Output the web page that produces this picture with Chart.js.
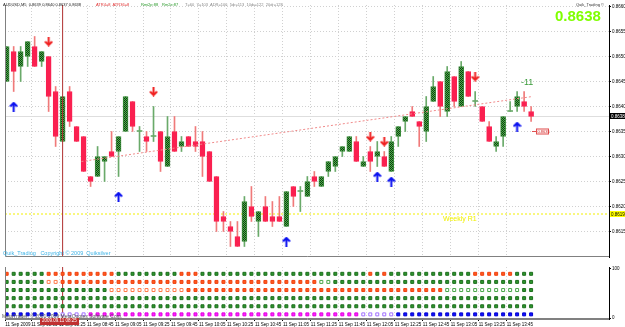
<!DOCTYPE html>
<html>
<head>
<meta charset="utf-8">
<script src="https://cdn.jsdelivr.net/npm/chart.js@4.4.0/dist/chart.umd.min.js"></script>
<style>
  html, body { margin: 0; padding: 0; background: #fff; }
  #wrap { position: relative; width: 625px; height: 327px; overflow: hidden; font-family: "Liberation Sans", Arial, sans-serif; }
  canvas { position: absolute; left: 0; }
  #main { top: 0; }
  #ind { top: 262px; }
  .t { position: absolute; white-space: nowrap; line-height: 1; font-size: 4px; }
</style>
</head>
<body>
<div id="wrap">
  <canvas id="main" width="625" height="262"></canvas>
  <canvas id="ind" width="625" height="65"></canvas>

  <div class="t" style="left:3px;top:3px;color:#222;">AUDUSD,M5&nbsp; 0.8639 0.8640 0.8637 0.8638</div>
  <div class="t" style="left:96px;top:3px;color:#e03030;">ATR4=8&nbsp; ATR36=8</div>
  <div class="t" style="left:141px;top:3px;color:#2a9a2a;">Rmi2p:88</div>
  <div class="t" style="left:162px;top:3px;color:#2a9a2a;">Rm2e:87</div>
  <div class="t" style="left:185px;top:3px;color:#888;">T=60&nbsp; Y=103&nbsp; ADR=106&nbsp; 5dr=113&nbsp; 10dr=122&nbsp; 20dr=128</div>

  <div class="t" style="left:576px;top:3px;color:#333;">Quik_Trading ©</div>
  <div class="t" style="left:555px;top:8px;color:#7fff00;font-size:15px;font-weight:bold;">0.8638</div>
  <div class="t" style="left:521px;top:78px;color:#3c9c3c;font-size:9px;">-11</div>
  <div class="t" style="left:443px;top:215px;color:#f0f000;font-size:7px;">Weekly R1</div>
  <div class="t" style="left:3px;top:251px;color:#40b4e6;font-size:5.5px;">Quik_Trading&nbsp;&nbsp; Copyright © 2009&nbsp; Quiksilver</div>
  <div class="t" style="left:2px;top:314px;color:#555;font-size:5px;">MetaTrader, © 2001-2009 MetaQuotes Software Corp.</div>
  <div class="t" style="left:40px;top:318px;background:#c03030;color:#fff;padding:1px 2px;font-size:4.5px;">2009.09.11 08:25</div>
</div>

<script>
// AUDUSD M5, 11 Sep 2009, bar 0 = 07:45
const priceOpen = [
  0.8645, 0.8651, 0.8648, 0.8650, 0.8652, 0.8649, 0.8650, 0.8643, 0.8633, 0.8643,
  0.8636, 0.8634, 0.8626, 0.8626, 0.8629, 0.8631, 0.8631, 0.8635, 0.8641, 0.8635,
  0.8634, 0.8634, 0.8635, 0.8628, 0.8635, 0.8632, 0.8634, 0.8633, 0.8633, 0.8631,
  0.8626, 0.8618, 0.8616, 0.8614, 0.8613, 0.8620, 0.8617, 0.8620, 0.8618, 0.8618,
  0.8616, 0.8624, 0.8623, 0.8622, 0.8626, 0.8624, 0.8627, 0.8628, 0.8631, 0.8631,
  0.8633, 0.8628, 0.8631, 0.8630, 0.8630, 0.8627, 0.8634, 0.8637, 0.8639, 0.8637,
  0.8635, 0.8641, 0.8645, 0.8639, 0.8646, 0.8640, 0.8647, 0.8641, 0.8640, 0.8636,
  0.8632, 0.8634, 0.8639, 0.8640, 0.8641, 0.8639,
];
const priceHigh = [
  0.8652, 0.8652, 0.8652, 0.8653, 0.8654, 0.8651, 0.8650, 0.8644, 0.8642, 0.8644,
  0.8636, 0.8634, 0.8626, 0.8632, 0.8630, 0.8635, 0.8634, 0.8642, 0.8641, 0.8636,
  0.8635, 0.8640, 0.8635, 0.8638, 0.8638, 0.8634, 0.8634, 0.8636, 0.8635, 0.8631,
  0.8626, 0.8619, 0.8617, 0.8617, 0.8622, 0.8624, 0.8619, 0.8622, 0.8621, 0.8622,
  0.8623, 0.8624, 0.8624, 0.8626, 0.8627, 0.8626, 0.8629, 0.8630, 0.8632, 0.8634,
  0.8634, 0.8630, 0.8632, 0.8633, 0.8631, 0.8634, 0.8636, 0.8638, 0.8640, 0.8637,
  0.8642, 0.8646, 0.8645, 0.8648, 0.8646, 0.8649, 0.8647, 0.8643, 0.8640, 0.8637,
  0.8634, 0.8638, 0.8641, 0.8643, 0.8643, 0.8640,
];
const priceLow = [
  0.8645, 0.8643, 0.8645, 0.8648, 0.8648, 0.8648, 0.8639, 0.8632, 0.8633, 0.8636,
  0.8633, 0.8627, 0.8624, 0.8626, 0.8625, 0.8630, 0.8626, 0.8635, 0.8635, 0.8631,
  0.8631, 0.8633, 0.8627, 0.8628, 0.8631, 0.8631, 0.8632, 0.8631, 0.8626, 0.8625,
  0.8615, 0.8615, 0.8612, 0.8612, 0.8612, 0.8617, 0.8614, 0.8617, 0.8616, 0.8617,
  0.8616, 0.8620, 0.8619, 0.8622, 0.8624, 0.8624, 0.8626, 0.8627, 0.8630, 0.8631,
  0.8629, 0.8628, 0.8627, 0.8628, 0.8628, 0.8627, 0.8632, 0.8635, 0.8638, 0.8632,
  0.8633, 0.8641, 0.8638, 0.8638, 0.8640, 0.8640, 0.8642, 0.8640, 0.8637, 0.8633,
  0.8631, 0.8632, 0.8639, 0.8639, 0.8639, 0.8637,
];
const priceClose = [
  0.8652, 0.8647, 0.8651, 0.8653, 0.8648, 0.8651, 0.8642, 0.8634, 0.8642, 0.8637,
  0.8633, 0.8627, 0.8625, 0.8630, 0.8630, 0.8630, 0.8634, 0.8642, 0.8636, 0.8635,
  0.8633, 0.8634, 0.8629, 0.8634, 0.8631, 0.8633, 0.8632, 0.8632, 0.8630, 0.8625,
  0.8617, 0.8617, 0.8615, 0.8612, 0.8621, 0.8618, 0.8619, 0.8617, 0.8617, 0.8617,
  0.8623, 0.8622, 0.8623, 0.8625, 0.8625, 0.8626, 0.8629, 0.8630, 0.8632, 0.8634,
  0.8629, 0.8629, 0.8629, 0.8631, 0.8628, 0.8633, 0.8636, 0.8638, 0.8638, 0.8636,
  0.8640, 0.8644, 0.8640, 0.8647, 0.8641, 0.8648, 0.8642, 0.8641, 0.8637, 0.8633,
  0.8633, 0.8638, 0.8639, 0.8642, 0.8640, 0.8638,
];

const timeLabels = [
  "11 Sep 2009", "11 Sep 08:05", "11 Sep 08:25", "11 Sep 08:45", "11 Sep 09:05",
  "11 Sep 09:25", "11 Sep 09:45", "11 Sep 10:05", "11 Sep 10:25", "11 Sep 10:45",
  "11 Sep 11:05", "11 Sep 11:25", "11 Sep 11:45", "11 Sep 12:05", "11 Sep 12:25",
  "11 Sep 12:45", "11 Sep 13:05", "11 Sep 13:25", "11 Sep 13:45",
];
const timeTickBars = [-0.2, 3.5, 7.5, 11.5, 15.5, 19.5, 23.5, 27.5, 31.5, 35.5, 39.5, 43.5, 47.5, 51.5, 55.5, 59.5, 63.5, 67.5, 71.5];
const priceTicks = [0.8615, 0.8620, 0.8625, 0.8630, 0.8635, 0.8640, 0.8645, 0.8650, 0.8655, 0.8660];

// signal arrows: [bar, price]
const upArrows = [[1, 0.8640], [16, 0.8622], [40, 0.8613], [53, 0.8626], [55, 0.8625], [73, 0.8636]];
const downArrows = [[6, 0.8653], [21, 0.8643], [52, 0.8634], [54, 0.8633], [67, 0.8646]];
const trendLine = [[10.7, 0.8629], [75.2, 0.8642]];
const bidPrice = 0.8638;
const weeklyR1 = 0.86185;
const cursorBar = 8;
const sideTag = [75.7, 0.8635];

// lower panel: g green, h hollow green, o orange, p hollow orange, b blue, m magenta, q hollow violet
const rowLevels = [90, 73.5, 57, 40.5, 24, 7.5];
const rowStates = [
  "oggggg oooooooooo ggggggggg ooo gggggggggggggggggggggggg o g o gggggggggggg oooooo ggg",
  "gggggg pp ooooooooooooooooooooooooooooooooooooo hh ggggggggggggggggggggggggggggg",
  "ggggggggggggggg ppppppppppp ooooooooooooooooooooooooooooooooooooo hhhhhhhhhhh gg",
  "gggggggggggggggggggggggggggggggggggggggggggggggggggggggggggggggggggggggggggg",
  "gggggggggggggggggggggggggggggggggggggggggggggggggggggggggggggggggggggggggggg",
  "bbbbbbbb qqqq mmmmmmmmmmmmmmmmmmmmmmmmmmmmmmmmmmmmmmm qqqqq bbbbbbbbbbbbbbbbbbbb",
];

const X_MIN = -0.24;
const X_MAX = 86.14;
const Y_MIN = 0.86099;
const Y_MAX = 0.86603;

const STATE_STYLE = {
  g: ["#2e962e", "#1d6e1d"],
  h: ["#ffffff", "#4aa64a"],
  o: ["#ff5a1e", "#f04010"],
  p: ["#ffffff", "#ff7a4a"],
  b: ["#1010ff", "#0000d0"],
  m: ["#ff20ff", "#e000e0"],
  q: ["#ffffff", "#a070ff"],
};

function makeArrow(color, up) {
  const c = document.createElement("canvas");
  c.width = 9;
  c.height = 10;
  const g = c.getContext("2d");
  g.fillStyle = color;
  g.beginPath();
  if (up) {
    g.moveTo(4.5, 0); g.lineTo(9, 4.5); g.lineTo(7, 5.5); g.lineTo(5.5, 4);
    g.lineTo(5.5, 10); g.lineTo(3.5, 10); g.lineTo(3.5, 4); g.lineTo(2, 5.5); g.lineTo(0, 4.5);
  } else {
    g.moveTo(4.5, 10); g.lineTo(9, 5.5); g.lineTo(7, 4.5); g.lineTo(5.5, 6);
    g.lineTo(5.5, 0); g.lineTo(3.5, 0); g.lineTo(3.5, 6); g.lineTo(2, 4.5); g.lineTo(0, 5.5);
  }
  g.closePath();
  g.fill();
  return c;
}

function makeBullPattern(ctx) {
  const c = document.createElement("canvas");
  c.width = 2;
  c.height = 2;
  const g = c.getContext("2d");
  g.fillStyle = "#4ea84e";
  g.fillRect(0, 0, 2, 2);
  g.fillStyle = "#0d420d";
  g.fillRect(0, 0, 1, 1);
  g.fillRect(1, 1, 1, 1);
  return ctx.createPattern(c, "repeat");
}

const mainCtx = document.getElementById("main").getContext("2d");
const bullFill = makeBullPattern(mainCtx);

function candleKind(i) {
  if (priceClose[i] > priceOpen[i]) return "bull";
  if (priceClose[i] < priceOpen[i]) return "bear";
  return "doji";
}

const framePlugin = {
  id: "frame",
  afterDraw(chart) {
    const { ctx, chartArea: a } = chart;
    ctx.save();
    ctx.strokeStyle = "#808080";
    ctx.lineWidth = 1;
    ctx.beginPath();
    ctx.moveTo(a.left + 0.5, a.top);
    ctx.lineTo(a.left + 0.5, a.bottom - 0.5);
    ctx.lineTo(a.right, a.bottom - 0.5);
    ctx.stroke();
    ctx.restore();
  },
};

const priceTagPlugin = {
  id: "priceTags",
  afterDraw(chart) {
    const { ctx, chartArea: a, scales } = chart;
    const tag = (price, bg, fg) => {
      const py = Math.round(scales.y.getPixelForValue(price));
      ctx.fillStyle = bg;
      ctx.fillRect(a.right + 1, py - 3, 15, 6);
      ctx.fillStyle = fg;
      ctx.font = "4.5px 'Liberation Sans', Arial";
      ctx.textBaseline = "middle";
      ctx.fillText(price.toFixed(4), a.right + 2, py + 0.5);
    };
    ctx.save();
    tag(bidPrice, "#000000", "#ffffff");
    tag(weeklyR1, "#ffff00", "#000000");

    // small price box next to the last bar
    const sx = scales.x.getPixelForValue(sideTag[0]);
    const sy = Math.round(scales.y.getPixelForValue(sideTag[1]));
    ctx.strokeStyle = "#e05050";
    ctx.lineWidth = 1;
    ctx.beginPath();
    ctx.moveTo(sx - 4, sy + 0.5);
    ctx.lineTo(sx, sy + 0.5);
    ctx.stroke();
    ctx.fillStyle = "#fff4f4";
    ctx.fillRect(sx, sy - 2.5, 13, 6);
    ctx.strokeRect(sx + 0.5, sy - 2, 12, 5);
    ctx.fillStyle = "#d03030";
    ctx.font = "4px 'Liberation Sans', Arial";
    ctx.textBaseline = "middle";
    ctx.fillText(sideTag[1].toFixed(4), sx + 1.5, sy + 0.5);
    ctx.restore();
  },
};

const bars = priceOpen.map((_, i) => i);

new Chart(mainCtx, {
  type: "bar",
  data: {
    datasets: [
      {
        type: "line",
        label: "Bid",
        data: [{ x: X_MIN, y: bidPrice }, { x: X_MAX, y: bidPrice }],
        borderColor: "#dedede",
        borderWidth: 1,
        pointRadius: 0,
        order: 6,
      },
      {
        type: "line",
        label: "Weekly R1",
        data: [{ x: X_MIN, y: weeklyR1 }, { x: X_MAX, y: weeklyR1 }],
        borderColor: "#f4f000",
        borderWidth: 1,
        borderDash: [2, 2],
        pointRadius: 0,
        order: 6,
      },
      {
        label: "Wick",
        data: bars.map((i) => ({ x: i, y: [priceLow[i], priceHigh[i]] })),
        backgroundColor: bars.map((i) => (candleKind(i) === "bear" ? "#f07a7a" : "#6aaa6a")),
        barThickness: 1,
        grouped: false,
        order: 4,
      },
      {
        label: "Body",
        data: bars.map((i) => ({ x: i, y: [priceOpen[i], priceClose[i]] })),
        backgroundColor: bars.map((i) => {
          const k = candleKind(i);
          return k === "bull" ? bullFill : k === "bear" ? "#fa2050" : "#6aaa6a";
        }),
        borderColor: bars.map((i) => {
          const k = candleKind(i);
          return k === "bull" ? "#3a8a3a" : k === "bear" ? "#fa2050" : "#6aaa6a";
        }),
        borderWidth: bars.map((i) => (candleKind(i) === "doji" ? 0 : 1)),
        borderSkipped: false,
        barThickness: 5,
        minBarLength: 1,
        grouped: false,
        order: 3,
      },
      {
        type: "line",
        label: "Trend",
        data: trendLine.map(([x, y]) => ({ x, y })),
        borderColor: "#f08a8a",
        borderWidth: 1,
        borderDash: [2, 2],
        pointRadius: 0,
        order: 1,
      },
      {
        type: "line",
        label: "Cursor",
        data: [{ x: cursorBar, y: Y_MIN }, { x: cursorBar, y: Y_MAX }],
        borderColor: "#b03030",
        borderWidth: 1,
        pointRadius: 0,
        order: 1,
      },
      {
        type: "scatter",
        label: "Up",
        data: upArrows.map(([x, y]) => ({ x, y })),
        pointStyle: makeArrow("#0a10f0", true),
        order: 0,
      },
      {
        type: "scatter",
        label: "Down",
        data: downArrows.map(([x, y]) => ({ x, y })),
        pointStyle: makeArrow("#f02020", false),
        order: 0,
      },
    ],
  },
  options: {
    responsive: false,
    animation: false,
    events: [],
    layout: { padding: { top: 0, left: 0, right: 0, bottom: 1 } },
    plugins: { legend: { display: false }, tooltip: { enabled: false } },
    scales: {
      x: {
        type: "linear",
        min: X_MIN,
        max: X_MAX,
        offset: false,
        afterBuildTicks: (s) => { s.ticks = timeTickBars.map((v) => ({ value: v })); },
        ticks: { display: false },
        grid: { color: "#d0d0d0", drawTicks: false, offset: false },
        border: { display: false, dash: [1, 2] },
        afterFit: (s) => { s.height = 0; s.paddingLeft = 0; s.paddingRight = 0; },
      },
      y: {
        position: "right",
        min: Y_MIN,
        max: Y_MAX,
        afterBuildTicks: (s) => { s.ticks = priceTicks.map((v) => ({ value: v })); },
        ticks: {
          font: { size: 4.5, family: "'Liberation Sans', Arial" },
          color: "#000",
          padding: 1,
          callback: (v) => Number(v).toFixed(4),
        },
        grid: { color: "#d0d0d0", tickLength: 2, tickColor: "#000", tickBorderDash: [] },
        border: { display: true, color: "#000", dash: [1, 2] },
        afterFit: (s) => { s.width = 16; s.paddingTop = 0; s.paddingBottom = 0; },
      },
    },
  },
  plugins: [framePlugin, priceTagPlugin],
});

const rowDatasets = rowStates.map((row, r) => {
  const states = row.replace(/\s+/g, "").split("");
  return {
    label: "Row " + (r + 1),
    data: states.map((_, i) => ({ x: i, y: rowLevels[r] })),
    pointStyle: "rect",
    pointRadius: 2.1,
    pointBorderWidth: 1,
    pointBackgroundColor: states.map((s) => STATE_STYLE[s][0]),
    pointBorderColor: states.map((s) => STATE_STYLE[s][1]),
  };
});

new Chart(document.getElementById("ind"), {
  type: "scatter",
  data: {
    datasets: [
      ...rowDatasets,
      {
        type: "line",
        label: "Cursor",
        data: [{ x: cursorBar, y: -1.92 }, { x: cursorBar, y: 103.85 }],
        borderColor: "#b03030",
        borderWidth: 1,
        pointRadius: 0,
      },
    ],
  },
  options: {
    responsive: false,
    animation: false,
    events: [],
    layout: { padding: { top: 1, left: 0, right: 0, bottom: 0 } },
    plugins: { legend: { display: false }, tooltip: { enabled: false } },
    scales: {
      x: {
        type: "linear",
        min: X_MIN,
        max: X_MAX,
        afterBuildTicks: (s) => { s.ticks = timeTickBars.map((v) => ({ value: v })); },
        ticks: {
          font: { size: 4.5, family: "'Liberation Sans', Arial" },
          color: "#000",
          align: "start",
          padding: 1,
          maxRotation: 0,
          autoSkip: false,
          callback: (v, i) => timeLabels[i],
        },
        grid: { color: "#d8d8d8", tickLength: 2, tickColor: "#000", tickBorderDash: [] },
        border: { display: true, color: "#808080", dash: [1, 2] },
        afterFit: (s) => { s.height = 8; s.paddingLeft = 0; s.paddingRight = 0; },
      },
      y: {
        position: "right",
        min: -1.92,
        max: 103.85,
        afterBuildTicks: (s) => { s.ticks = [{ value: 0 }, { value: 100 }]; },
        ticks: { font: { size: 4.5, family: "'Liberation Sans', Arial" }, color: "#000", padding: 1 },
        grid: { drawOnChartArea: false, tickLength: 2, tickColor: "#000" },
        border: { display: true, color: "#000" },
        afterFit: (s) => { s.width = 16; s.paddingTop = 0; s.paddingBottom = 0; },
      },
    },
  },
  plugins: [framePlugin],
});
</script>
</body>
</html>
